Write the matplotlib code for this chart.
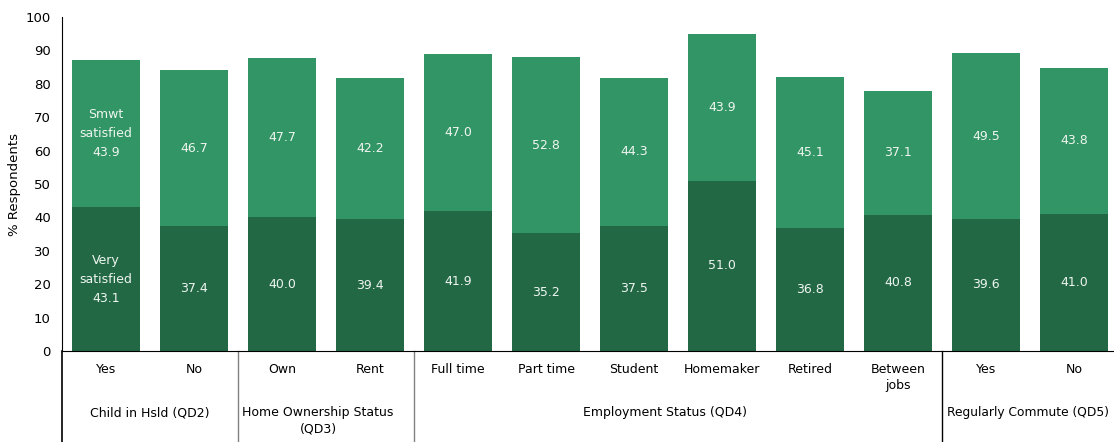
import numpy as np
import matplotlib.pyplot as plt

# Satisfaction by household segment (% respondents)
categories = ["Yes", "No", "Own", "Rent", "Full time", "Part time", "Student",
              "Homemaker", "Retired", "Between\njobs", "Yes", "No"]
very_satisfied = [43.1, 37.4, 40.0, 39.4, 41.9, 35.2, 37.5, 51.0, 36.8, 40.8, 39.6, 41.0]
smwt_satisfied = [43.9, 46.7, 47.7, 42.2, 47.0, 52.8, 44.3, 43.9, 45.1, 37.1, 49.5, 43.8]
groups = ["Child in Hsld (QD2)", "Home Ownership Status\n(QD3)",
          "Employment Status (QD4)", "Regularly Commute (QD5)"]
group_bounds = [1.5, 3.5, 9.5]

dark_green = "#236845"
light_green = "#329565"
label_color = "#eef5f0"

fig = plt.figure(figsize=(11.14, 4.42), dpi=100)
ax = fig.add_axes([62 / 1114, 91 / 442, 1056 / 1114, 334 / 442])

x = np.arange(len(categories))
very = np.array(very_satisfied)
smwt = np.array(smwt_satisfied)
ax.bar(x, very, width=0.77, color=dark_green, linewidth=0)
ax.bar(x, smwt, width=0.77, bottom=very, color=light_green, linewidth=0)

for i in range(len(x)):
    if i == 0:
        lo = "Very\nsatisfied\n%.1f" % very[i]
        hi = "Smwt\nsatisfied\n%.1f" % smwt[i]
    else:
        lo = "%.1f" % very[i]
        hi = "%.1f" % smwt[i]
    ax.text(x[i], very[i] / 2, lo, ha="center", va="center", color=label_color,
            fontsize=9, linespacing=1.6)
    ax.text(x[i], very[i] + smwt[i] / 2, hi, ha="center", va="center",
            color=label_color, fontsize=9, linespacing=1.6)

ax.set_xlim(-0.5, 11.5)
ax.set_ylim(0, 100)
ax.set_yticks(range(0, 101, 10))
ax.tick_params(axis="y", length=0, labelsize=9.5, pad=8)
ax.set_xticks([])
ax.set_ylabel("% Respondents", fontsize=9.5, labelpad=3)
for side in ["top", "right"]:
    ax.spines[side].set_visible(False)

# Category and group labels under the axis
trans = ax.get_xaxis_transform()
depth = -91 / 334
for i, c in enumerate(categories):
    ax.text(x[i], -0.035, c, transform=trans, ha="center", va="top",
            fontsize=9, linespacing=1.3)
ax.text(0.5, -0.165, groups[0], transform=trans, ha="center", va="top", fontsize=9)
ax.text(2.41, -0.165, groups[1], transform=trans, ha="center", va="top",
        fontsize=9, linespacing=1.3)
ax.text(6.35, -0.165, groups[2], transform=trans, ha="center", va="top", fontsize=9)
ax.text(9.56, -0.165, groups[3], transform=trans, ha="left", va="top", fontsize=8.8)

ax.plot([-0.5, -0.5], [0, depth], transform=trans, color="black", lw=1.2, clip_on=False)
for b, col in zip(group_bounds, ["#808080", "#808080", "black"]):
    ax.plot([b, b], [0, depth], transform=trans, color=col, lw=1, clip_on=False)

fig.savefig("out.png", dpi=100)
